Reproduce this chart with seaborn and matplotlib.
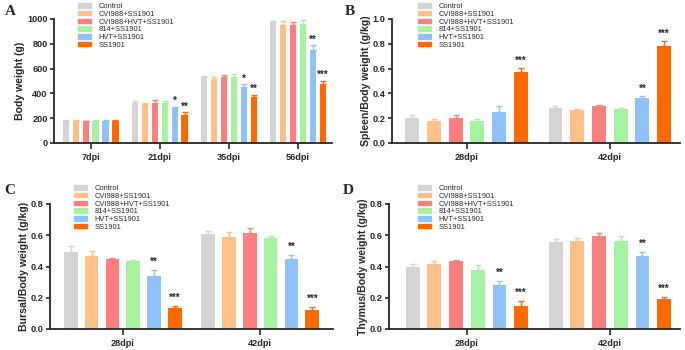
import numpy as np
import pandas as pd
import matplotlib
matplotlib.use("Agg")
import matplotlib.pyplot as plt
import seaborn as sns

groups = ["Control", "CVI988+SS1901", "CVI988+HVT+SS1901", "814+SS1901", "HVT+SS1901", "SS1901"]
colors = ["#D4D4D4", "#FFC08A", "#FF7F80", "#A6F2A2", "#90C2F8", "#FF6A00"]

# Panel A: body weight
a_cats = ["7dpi", "21dpi", "35dpi", "56dpi"]
a_vals = [
    [180, 325, 533, 975],
    [180, 312, 520, 950],
    [178, 323, 532, 948],
    [180, 325, 535, 958],
    [180, 282, 455, 748],
    [175, 228, 368, 478],
]
a_err = [
    [4, 12, 10, 8],
    [3, 10, 12, 30],
    [3, 20, 20, 25],
    [3, 12, 22, 30],
    [3, 12, 20, 40],
    [10, 18, 20, 25],
]
a_sig = [
    ["", "", "", ""],
    ["", "", "", ""],
    ["", "", "", ""],
    ["", "", "", ""],
    ["", "*", "*", "**"],
    ["", "**", "**", "***"],
]

# Panel B: spleen
b_cats = ["28dpi", "42dpi"]
b_vals = [[0.20, 0.285], [0.18, 0.265], [0.20, 0.295], [0.18, 0.275], [0.25, 0.36], [0.57, 0.78]]
b_err = [[0.025, 0.015], [0.01, 0.008], [0.025, 0.015], [0.01, 0.008], [0.045, 0.02], [0.035, 0.04]]
b_sig = [["", ""], ["", ""], ["", ""], ["", ""], ["", "**"], ["***", "***"]]

# Panel C: bursa
c_cats = ["28dpi", "42dpi"]
c_vals = [[0.495, 0.61], [0.47, 0.59], [0.445, 0.615], [0.435, 0.585], [0.34, 0.445], [0.135, 0.12]]
c_err = [[0.035, 0.015], [0.03, 0.03], [0.008, 0.03], [0.008, 0.008], [0.04, 0.03], [0.012, 0.02]]
c_sig = [["", ""], ["", ""], ["", ""], ["", ""], ["**", "**"], ["***", "***"]]

# Panel D: thymus
d_cats = ["28dpi", "42dpi"]
d_vals = [[0.395, 0.555], [0.415, 0.56], [0.435, 0.595], [0.38, 0.56], [0.28, 0.465], [0.15, 0.195]]
d_err = [[0.018, 0.02], [0.018, 0.025], [0.008, 0.02], [0.03, 0.035], [0.03, 0.025], [0.028, 0.012]]
d_sig = [["", ""], ["", ""], ["", ""], ["", ""], ["**", "**"], ["***", "***"]]

sns.set_style("ticks")
plt.rcParams["font.family"] = ["Liberation Sans", "DejaVu Sans"]

W, H = 685, 350
fig = plt.figure(figsize=(W / 100, H / 100), dpi=100)


def px_axes(l, t, r, b):
    return fig.add_axes([l / W, 1 - b / H, (r - l) / W, (b - t) / H])


def panel(ax, cats, vals, errs, sigs, ylabel, ylim, yticks, yfmt, xlim, width, gap,
          letter, letter_xy, leg_xy, star_off):
    rows = []
    for gi, g in enumerate(groups):
        for ci, c in enumerate(cats):
            rows.append({"cat": c, "group": g, "val": vals[gi][ci]})
    df = pd.DataFrame(rows)
    sns.barplot(data=df, x="cat", y="val", hue="group", hue_order=groups, order=cats,
                palette=colors, errorbar=None, width=width, gap=gap, ax=ax,
                saturation=1, linewidth=0)
    bar_containers = list(ax.containers)
    for gi, cont in enumerate(bar_containers):
        xs = np.array([p.get_x() + p.get_width() / 2 for p in cont.patches])
        hs = np.array([p.get_height() for p in cont.patches])
        e = np.array(errs[gi])
        ax.errorbar(xs, hs, yerr=[np.zeros_like(e), e], fmt="none", ecolor=colors[gi],
                    elinewidth=1.0, capsize=2.4, capthick=1.0)
        for xi, hi, ei, s in zip(xs, hs, e, sigs[gi]):
            if s:
                ax.text(xi, hi + ei + star_off, s, ha="center", va="bottom",
                        fontsize=7, fontweight="bold")
    ax.set_ylim(*ylim)
    ax.set_yticks(yticks)
    ax.set_yticklabels([yfmt.format(v) for v in yticks])
    ax.set_xlim(*xlim)
    ax.set_xlabel("")
    ax.set_ylabel(ylabel, fontsize=7.6, fontweight="bold", labelpad=1.5)
    for lab in ax.get_xticklabels() + ax.get_yticklabels():
        lab.set_fontweight("bold")
        lab.set_fontsize(6.6)
    ax.tick_params(axis="both", width=1.2, length=3, pad=1.5)
    ax.tick_params(axis="x", length=4, pad=3)
    sns.despine(ax=ax)
    for sp in ["left", "bottom"]:
        ax.spines[sp].set_linewidth(1.3)
    leg = ax.get_legend()
    if leg is not None:
        leg.remove()
    handles = [plt.Rectangle((0, 0), 1, 1, color=c) for c in colors]
    fig.legend(handles, groups, loc="upper left",
               bbox_to_anchor=(leg_xy[0] / W, 1 - leg_xy[1] / H),
               frameon=False, fontsize=5.4, handlelength=1.7, handleheight=0.55,
               handletextpad=1.05, labelspacing=0.1, borderpad=0, borderaxespad=0)
    fig.text(letter_xy[0] / W, 1 - letter_xy[1] / H, letter, fontsize=11,
             fontweight="bold", family="Liberation Serif", va="top", ha="left")


axA = px_axes(54, 19, 332, 143)
panel(axA, a_cats, a_vals, a_err, a_sig, "Body weight (g)", (0, 1000),
      [0, 200, 400, 600, 800, 1000], "{:d}", (-0.53, 3.49), 0.86, 0.37,
      "A", (5, 5), (78, 3), 5)

axB = px_axes(392, 19, 680, 143)
panel(axB, b_cats, b_vals, b_err, b_sig, "Spleen/Body weight (g/kg)", (0, 1.0),
      [0.0, 0.2, 0.4, 0.6, 0.8, 1.0], "{:.1f}", (-0.52, 1.49), 0.91, 0.36,
      "B", (345, 5), (418, 3), 0.02)

axC = px_axes(50, 204, 333, 329)
panel(axC, c_cats, c_vals, c_err, c_sig, "Bursal/Body weight (g/kg)", (0, 0.8),
      [0.0, 0.2, 0.4, 0.6, 0.8], "{:.1f}", (-0.53, 1.53), 0.91, 0.34,
      "C", (4, 184), (74, 185), 0.02)

axD = px_axes(389, 204, 680, 329)
panel(axD, d_cats, d_vals, d_err, d_sig, "Thymus/Body weight (g/kg)", (0, 0.8),
      [0.0, 0.2, 0.4, 0.6, 0.8], "{:.1f}", (-0.545, 1.49), 0.91, 0.36,
      "D", (343, 184), (418, 185), 0.02)

fig.savefig("out.png", dpi=100)
